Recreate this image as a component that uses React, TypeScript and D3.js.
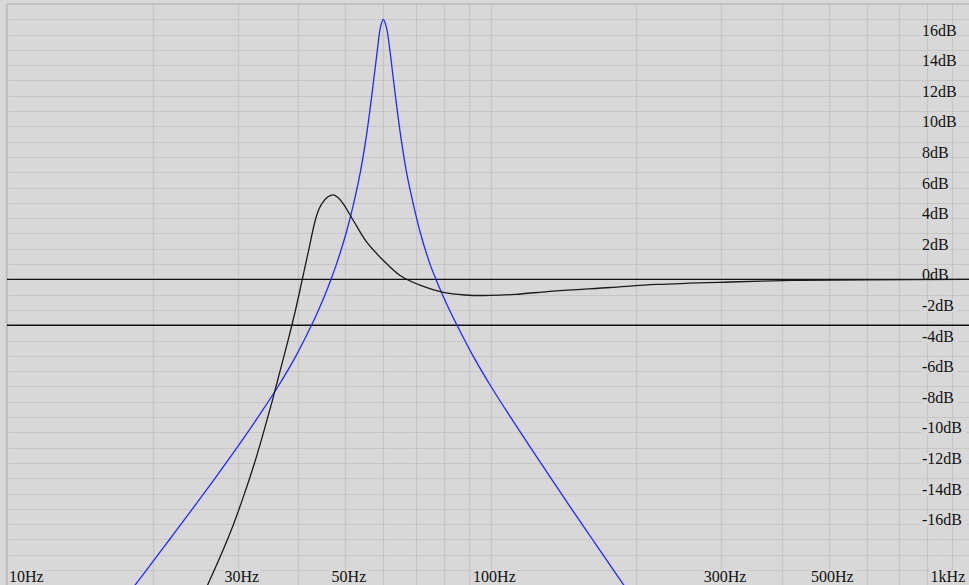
import React from "react";
import * as d3 from "d3";

// blue curve (Hz, dB)
const blueFreq = [17.35, 19.4, 21.65, 24.15, 26.89, 29.86, 33.0, 36.31, 39.55, 42.58, 44.03, 45.41, 46.72, 47.96, 50.19, 52.09, 53.73, 55.08, 56.22, 57.25, 58.29, 59.16, 59.96, 60.82, 61.84, 62.94, 64.09, 65.39, 66.97, 69.07, 71.58, 74.89, 77.06, 79.48, 82.18, 85.17, 91.92, 100.14, 109.9, 120.9, 133.3, 146.96, 162.4, 179.5, 198.5];
const blueDb = [-21, -19, -17, -15, -13, -11, -9, -7, -5, -3, -2, -1, 0, 1, 3, 5, 7, 9, 11, 13, 15, 16.5, 17, 16.5, 15, 13, 11, 9, 7, 5, 3, 1, 0, -1, -2, -3, -5, -7, -9, -11, -13, -15, -17, -19, -21];

// black curve (Hz, dB)
const blackFreq = [24.21, 25.93, 27.67, 29.37, 30.94, 32.46, 33.88, 35.28, 36.65, 38.07, 39.46, 40.75, 42.07, 43.3, 44.13, 45.09, 46.07, 47.25, 48.31, 49.55, 51.97, 55.4, 59.96, 64.93, 72.54, 79.79, 88.47, 100, 112.3, 134.8, 176.6, 220.5, 312.6, 422.7, 600, 1000];
const blackDb = [-22, -20, -18, -16, -14, -12, -10, -8, -6, -4, -2, 0, 2, 3.8, 4.6, 5.1, 5.4, 5.52, 5.35, 4.94, 3.85, 2.43, 1.24, 0.26, -0.46, -0.85, -1.02, -1.05, -0.98, -0.76, -0.53, -0.33, -0.17, -0.07, -0.03, 0];

// reference lines
const refLines = [0, -3];

// tick labels
const xLabelValues = [10, 30, 50, 100, 300, 500, 1000];
const xLabels = ["10Hz", "30Hz", "50Hz", "100Hz", "300Hz", "500Hz", "1kHz"];
const yLabelValues = [16, 14, 12, 10, 8, 6, 4, 2, 0, -2, -4, -6, -8, -10, -12, -14, -16];

const W = 969;
const H = 585;
const BG = "#d8d8d8";
const GRID = "#c6c6c6";
const FONT = "'Liberation Serif', 'Times New Roman', serif";
const FS = 16;
const charW = (s: string) => s.length * FS * 0.5 + (s.match(/[HBk]/g) || []).length * FS * 0.2;

const App = () => {
  const x = d3.scaleLog().domain([10, 1000]).range([7.4, 974]);
  const y = d3.scaleLinear().domain([18, -18]).range([4, 554.8]);

  const line = d3
    .line<[number, number]>()
    .x((d) => x(d[0]))
    .y((d) => y(d[1]))
    .curve(d3.curveCatmullRom.alpha(0.5));

  const blue = blueFreq.map((f, i) => [f, blueDb[i]] as [number, number]);
  const black = blackFreq.map((f, i) => [f, blackDb[i]] as [number, number]);

  const xGrid = x.ticks();
  const yGrid = d3.range(-20, 19);

  // x label left edge, kept inside the window
  const xLabelX = (v: number, s: string) => {
    const w = charW(s);
    return Math.max(9, Math.min(W - w, x(v) + 4 - w / 2));
  };

  return (
    <svg width={W} height={H} style={{ position: "absolute", left: 0, top: 0 }}>
      <rect x={0} y={0} width={W} height={H} fill={BG} />
      <defs>
        <clipPath id="plot">
          <rect x={7} y={4} width={W - 7} height={H - 4} />
        </clipPath>
      </defs>
      <g stroke={GRID} strokeWidth={1.2}>
        {yGrid.map((d) => (
          <line key={"h" + d} x1={6.5} x2={W} y1={Math.round(y(d)) + 0.5} y2={Math.round(y(d)) + 0.5} />
        ))}
        {xGrid.map((d) => (
          <line key={"v" + d} x1={Math.round(x(d)) + 0.5} x2={Math.round(x(d)) + 0.5} y1={4} y2={H} />
        ))}
        <line x1={6.5} x2={6.5} y1={4} y2={H} stroke="#bcbcbc" strokeWidth={1.5} />
        <line x1={6.5} x2={W} y1={4} y2={4} stroke="#bcbcbc" strokeWidth={1.5} />
      </g>
      {/* label backgrounds */}
      <g fill={BG}>
        {yLabelValues.map((v) => {
          const s = v + "dB";
          return <rect key={"yb" + v} x={921} y={y(v) - 10} width={charW(s) + 2} height={12} />;
        })}
        {xLabelValues.map((v, i) => (
          <rect key={"xb" + v} x={xLabelX(v, xLabels[i]) - 1} y={570} width={charW(xLabels[i]) + 2} height={15} />
        ))}
      </g>
      <g clipPath="url(#plot)" fill="none">
        {refLines.map((v) => (
          <line key={"r" + v} x1={6.5} x2={W} y1={y(v)} y2={y(v)} stroke="#111" strokeWidth={1.4} />
        ))}
        <path d={line(blue) || ""} stroke="#2626ff" strokeWidth={1.3} />
        <path d={line(black) || ""} stroke="#1a1a1a" strokeWidth={1.3} />
      </g>
      <g fontFamily={FONT} fontSize={FS} fill="#111">
        {yLabelValues.map((v) => (
          <text key={"yl" + v} x={922} y={y(v) + 1}>
            {v + "dB"}
          </text>
        ))}
        {xLabelValues.map((v, i) => (
          <text key={"xl" + v} x={xLabelX(v, xLabels[i])} y={582}>
            {xLabels[i]}
          </text>
        ))}
      </g>
    </svg>
  );
};

export default App;
